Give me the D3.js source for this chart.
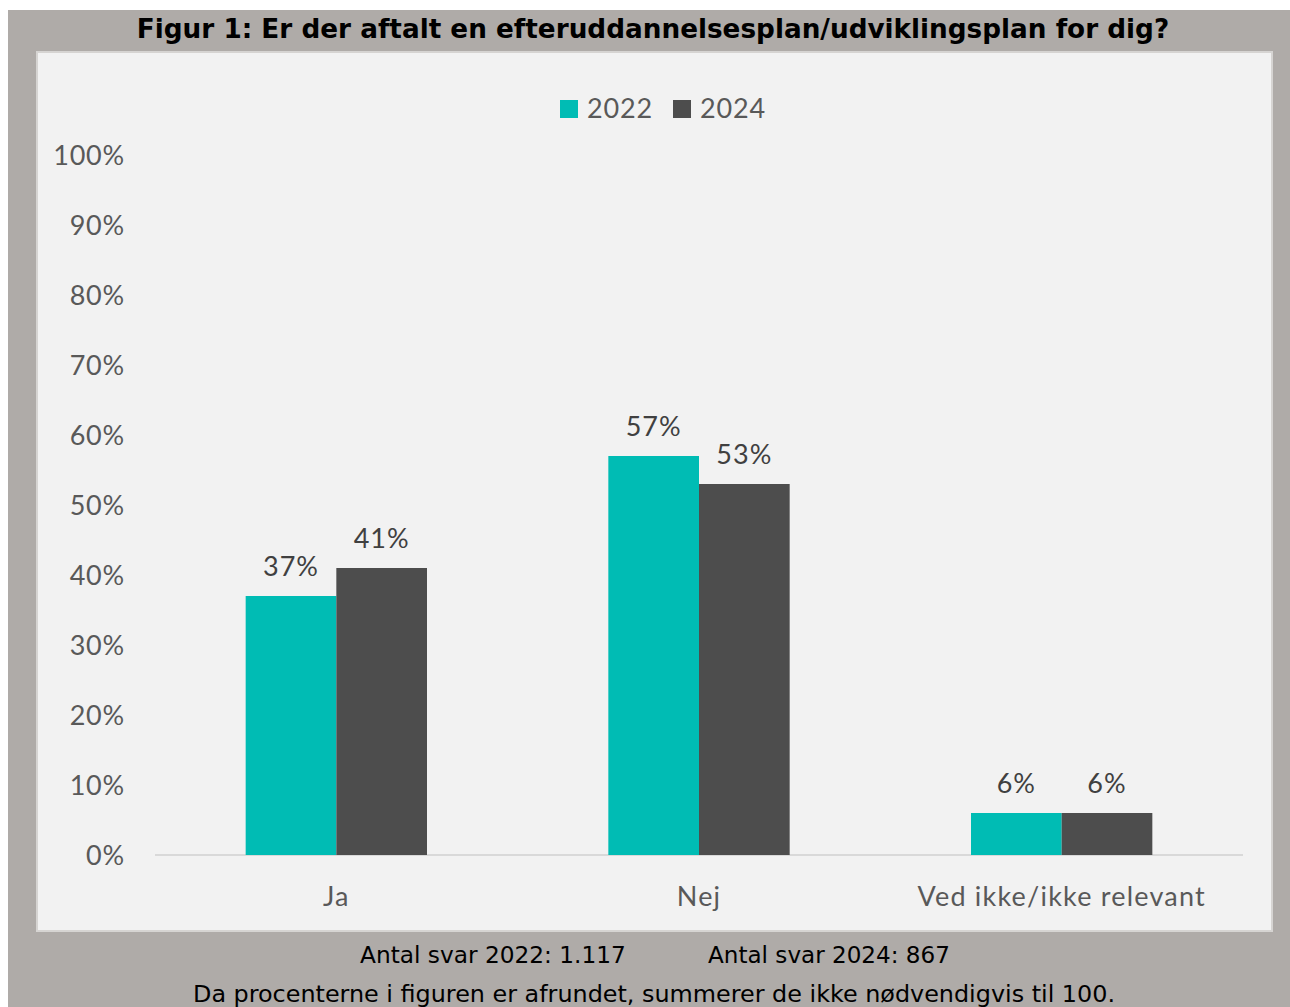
<!DOCTYPE html>
<html>
<head>
<meta charset="utf-8">
<script src="https://cdn.jsdelivr.net/npm/d3@7"></script>
<style>
  html, body { margin: 0; padding: 0; background: #ffffff; }
  svg { display: block; }
</style>
</head>
<body>
<svg id="chart" width="1290" height="1007"></svg>
<script>
const categories = ["Ja", "Nej", "Ved ikke/ikke relevant"];
const seriesNames = ["2022", "2024"];
const values2022 = [37, 57, 6];
const values2024 = [41, 53, 6];
const yTicks = [0, 10, 20, 30, 40, 50, 60, 70, 80, 90, 100];
const titleText = "Figur 1: Er der aftalt en efteruddannelsesplan/udviklingsplan for dig?";
const noteLine1a = "Antal svar 2022: 1.117";
const noteLine1b = "Antal svar 2024: 867";
const noteLine2 = "Da procenterne i figuren er afrundet, summerer de ikke nødvendigvis til 100.";

const colors = ["#00bcb4", "#4d4d4d"];
const svg = d3.select("#chart");

// Outer gray frame
svg.append("rect").attr("x", 8).attr("y", 10).attr("width", 1282).attr("height", 997).attr("fill", "#afaba8");
// Inner panel
svg.append("rect").attr("x", 37).attr("y", 52).attr("width", 1235).attr("height", 879)
  .attr("fill", "#f2f2f2").attr("stroke", "#d6d4d2").attr("stroke-width", 2);

function fit(sel, target) {
  const w = sel.node().getComputedTextLength();
  const fs = parseFloat(sel.attr("font-size"));
  sel.attr("font-size", fs * target / w);
}

// Title
const title = svg.append("text").attr("x", 653).attr("y", 38).attr("text-anchor", "middle")
  .attr("font-family", "DejaVu Sans, sans-serif").attr("font-weight", "bold").attr("font-size", 26)
  .attr("fill", "#000").text(titleText);
fit(title, 1033);

const x0 = d3.scaleBand().domain(categories).range([155, 1243]).paddingInner(0.5).paddingOuter(0.25);
const x1 = d3.scaleBand().domain(seriesNames).range([0, x0.bandwidth()]);
const y = d3.scaleLinear().domain([0, 100]).range([855, 155]);

const labelFont = "Lato, sans-serif";

// Y axis labels
const yAxis = svg.append("g").attr("transform", "translate(125,0)")
  .call(d3.axisLeft(y).tickValues(yTicks).tickFormat(d => d + "%").tickSize(0).tickPadding(0));
yAxis.select(".domain").remove();
yAxis.selectAll("text").attr("font-family", labelFont).attr("font-size", 27)
  .attr("letter-spacing", "0.8px")
  .attr("fill", "#595959").attr("dy", "0.36em");

// X axis
const xAxis = svg.append("g").attr("transform", "translate(0,855)")
  .call(d3.axisBottom(x0).tickSize(0).tickPadding(0).tickSizeOuter(0));
xAxis.select(".domain").attr("stroke", "#d9d9d9").attr("stroke-width", 2)
  .attr("d", "M155,0H1243");
xAxis.selectAll("text").attr("font-family", labelFont).attr("font-size", 27)
  .attr("letter-spacing", "1.2px")
  .attr("fill", "#595959").attr("dy", 0).attr("y", 51);

const data = categories.map((c, i) => ({ cat: c, vals: [values2022[i], values2024[i]] }));

const groups = svg.append("g").selectAll("g").data(data).join("g")
  .attr("transform", d => `translate(${x0(d.cat)},0)`);

groups.selectAll("rect").data(d => d.vals.map((v, j) => ({ s: seriesNames[j], v, j })))
  .join("rect")
  .attr("x", d => x1(d.s)).attr("width", x1.bandwidth())
  .attr("y", d => y(d.v)).attr("height", d => y(0) - y(d.v))
  .attr("fill", d => colors[d.j]);

groups.selectAll("text.lbl").data(d => d.vals.map((v, j) => ({ s: seriesNames[j], v, j })))
  .join("text").attr("class", "lbl")
  .attr("x", d => x1(d.s) + x1.bandwidth() / 2).attr("y", d => y(d.v) - 20)
  .attr("text-anchor", "middle").attr("font-family", labelFont).attr("font-size", 27)
  .attr("letter-spacing", "1px")
  .attr("fill", "#404040").text(d => d.v + "%");

// Legend
const legend = svg.append("g");
const legendX = [560, 673];
seriesNames.forEach((s, i) => {
  legend.append("rect").attr("x", legendX[i]).attr("y", 100).attr("width", 18).attr("height", 18).attr("fill", colors[i]);
  legend.append("text").attr("x", legendX[i] + 27).attr("y", 118)
    .attr("font-family", labelFont).attr("font-size", 27).attr("letter-spacing", "0.8px")
    .attr("fill", "#595959").text(s);
});

// Notes
const n1 = svg.append("text").attr("x", 360).attr("y", 963).attr("font-family", "DejaVu Sans, sans-serif")
  .attr("font-size", 24).attr("fill", "#000").text(noteLine1a);
fit(n1, 266);
const n2 = svg.append("text").attr("x", 708).attr("y", 963).attr("font-family", "DejaVu Sans, sans-serif")
  .attr("font-size", 24).attr("fill", "#000").text(noteLine1b);
fit(n2, 242);
const n3 = svg.append("text").attr("x", 654).attr("y", 1002).attr("text-anchor", "middle").attr("font-family", "DejaVu Sans, sans-serif")
  .attr("font-size", 24).attr("fill", "#000").text(noteLine2);
fit(n3, 922);
</script>
</body>
</html>
